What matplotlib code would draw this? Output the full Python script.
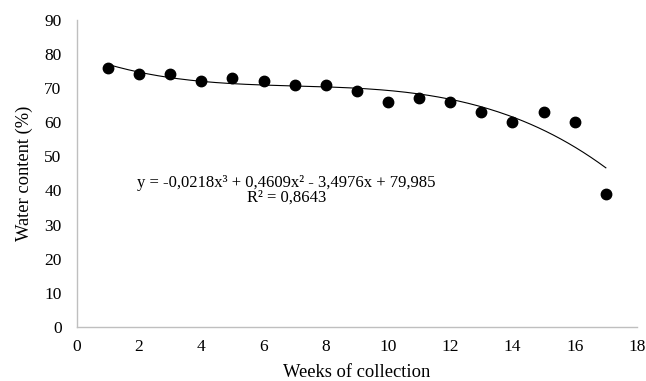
import numpy as np
import matplotlib.pyplot as plt

plt.rcParams['font.family'] = ['Liberation Serif', 'DejaVu Serif']

# semanas de coleta e teor de água
weeks = [1, 2, 3, 4, 5, 6, 7, 8, 9, 10, 11, 12, 13, 14, 15, 16, 17]
water = [76, 74, 74, 72, 73, 72, 71, 71, 69, 66, 67, 66, 63, 60, 63, 60, 39]

# coeficientes da linha de tendência (polinomial de 3ª ordem)
coef = [-0.0218, 0.4609, -3.4976, 79.985]
r2 = 0.8643

fig = plt.figure(figsize=(6.46, 3.81), dpi=100)
ax = fig.add_axes([0.119, 0.142, 0.867, 0.806])

xt = np.linspace(weeks[0], weeks[-1], 200)
ax.plot(xt, np.polyval(coef, xt), color='black', linewidth=0.8)
ax.plot(weeks, water, 'o', color='black', markersize=7.5)

eq = 'y = -0,0218x³ + 0,4609x² - 3,4976x + 79,985\nR² = 0,8643'
ax.text(6.73, 40.0, eq, ha='center', va='center', fontsize=12,
        linespacing=0.95)

ax.set_xlim(0, 18)
ax.set_ylim(0, 90)
ax.set_xticks(range(0, 19, 2))
ax.set_yticks(range(0, 91, 10))
ax.tick_params(length=0, labelsize=12.5)
ax.tick_params(axis='x', pad=9)
ax.tick_params(axis='y', pad=11)
for s in ['top', 'right']:
    ax.spines[s].set_visible(False)
for s in ['left', 'bottom']:
    ax.spines[s].set_color('#bfbfbf')
    ax.spines[s].set_linewidth(1)

ax.set_xlabel('Weeks of collection', fontsize=13.3, labelpad=6)
ax.set_ylabel('Water content (%)', fontsize=13.3, labelpad=8)

fig.savefig('out.png', dpi=100)
